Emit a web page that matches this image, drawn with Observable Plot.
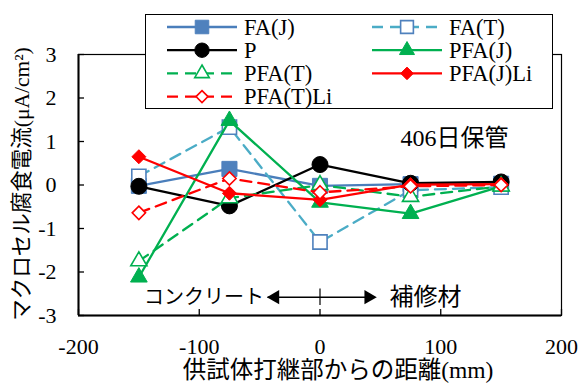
<!DOCTYPE html>
<html>
<head>
<meta charset="utf-8">
<script src="https://cdn.jsdelivr.net/npm/d3@7"></script>
<script src="https://cdn.jsdelivr.net/npm/@observablehq/plot@0.6"></script>
<style>
  body { margin: 0; background: #fff; }
  #chart { position: relative; width: 581px; height: 385px; font-family: "Liberation Serif", "Times New Roman", "Noto Sans CJK JP", serif; }
  #legend { position: absolute; left: 145px; top: 14px; width: 408px; height: 95px; background: #fff;
            border: 1.5px solid #000; box-sizing: border-box; overflow: visible; }
</style>
</head>
<body>
<div id="chart"><div id="legend"></div></div>
<script>
// Measurement positions (mm from the construction joint)
const positions = [-150, -75, 0, 75, 150];

// Macrocell corrosion current density (µA/cm²) per specimen
const faJ     = [-0.02,  0.37, -0.02,  0.02,  0.03];
const faT     = [ 0.20,  1.33, -1.31, -0.12, -0.05];
const p       = [-0.03, -0.48,  0.47,  0.04,  0.07];
const pfaJ    = [-2.12,  1.48, -0.40, -0.66, -0.03];
const pfaT    = [-1.75, -0.30,  0.00, -0.27, -0.03];
const pfaJLi  = [ 0.65, -0.19, -0.34,  0.01,  0.02];
const pfaTLi  = [-0.64,  0.15, -0.17, -0.03,  0.00];

const seriesNames = ["FA(J)", "FA(T)", "P", "PFA(J)", "PFA(T)", "PFA(J)Li", "PFA(T)Li"];
const seriesValues = [faJ, faT, p, pfaJ, pfaT, pfaJLi, pfaTLi];

const xTicks = [-200, -100, 0, 100, 200];
const yTicks = [-3, -2, -1, 0, 1, 2, 3];

const yTitle = "マクロセル腐食電流(μA/cm²)";
const xTitle = "供試体打継部からの距離(mm)";
const noteText = "406日保管";
const leftZone = "コンクリート";
const rightZone = "補修材";

const serif = '"Liberation Serif", "Times New Roman", "Noto Sans CJK JP", serif';

// Drawing styles for each series
const styles = {
  "FA(J)":    {line: "#4A7EBB", dash: null,   symbol: "square",   fill: "#4F81BD", stroke: "#4F81BD", r: 8.5},
  "FA(T)":    {line: "#4BACC6", dash: "11,7", symbol: "square",   fill: "#fff",    stroke: "#4F81BD", r: 8},
  "P":        {line: "#000",    dash: null,   symbol: "circle",   fill: "#000",    stroke: "#000",    r: 8},
  "PFA(J)":   {line: "#00B050", dash: null,   symbol: "triangle", fill: "#00B050", stroke: "#00B050", r: 6.2},
  "PFA(T)":   {line: "#00B050", dash: "11,7", symbol: "triangle", fill: "#fff",    stroke: "#00B050", r: 6},
  "PFA(J)Li": {line: "#FF0000", dash: null,   symbol: "diamond2", fill: "#FF0000", stroke: "#FF0000", r: 6.3},
  "PFA(T)Li": {line: "#FF0000", dash: "11,7", symbol: "diamond2", fill: "#fff",    stroke: "#FF0000", r: 6}
};

const rows = seriesNames.flatMap((name, i) =>
  positions.map((x, j) => ({series: name, x, y: seriesValues[i][j]})));

const seriesMarks = seriesNames.flatMap(name => {
  const s = styles[name];
  const data = rows.filter(d => d.series === name);
  return [
    Plot.line(data, {x: "x", y: "y", stroke: s.line, strokeWidth: 2.3, strokeDasharray: s.dash ?? undefined}),
    Plot.dot(data, {x: "x", y: "y", symbol: () => s.symbol, r: s.r, fill: s.fill, stroke: s.stroke,
                    strokeWidth: s.fill === "#fff" ? 1.6 : 1})
  ];
});

// Annotation placement (data units)
const note = {x: 113, y: 1.07};
const zoneY = -2.58;
const arrowEnds = [-43, 46];

const chart = Plot.plot({
  width: 581,
  height: 385,
  marginLeft: 78,
  marginRight: 20,
  marginTop: 54,
  marginBottom: 70,
  style: {fontFamily: serif, fontSize: "22px", color: "#000", background: "#fff"},
  x: {domain: [-200, 200], ticks: xTicks},
  y: {domain: [-3, 3], ticks: yTicks},
  marks: [
    Plot.frame({stroke: "#000", strokeWidth: 1.2}),
    Plot.axisX(xTicks, {tickSize: 0, tickPadding: 23, label: null, tickFormat: d => String(d), fontFamily: serif}),
    Plot.axisX(xTicks, {tickSize: -6, tickFormat: () => "", label: null, strokeWidth: 1.3}),
    Plot.axisY(yTicks, {tickSize: 0, tickPadding: 22, label: null, tickFormat: d => String(d), fontFamily: serif}),
    Plot.axisY(yTicks, {tickSize: -6, tickFormat: () => "", label: null, strokeWidth: 1.3}),
    Plot.ruleX([-200], {stroke: "#000", strokeWidth: 2}),
    Plot.ruleY([-3], {stroke: "#000", strokeWidth: 2}),
    Plot.text([yTitle], {frameAnchor: "left", dx: -56, dy: -1, rotate: -90, textAnchor: "middle", lineAnchor: "middle",
                         text: d => d, fill: "#000", fontSize: 21.5, fontFamily: serif}),
    Plot.text([xTitle], {frameAnchor: "bottom", dx: 18, dy: 55, textAnchor: "middle", lineAnchor: "middle",
                         text: d => d, fill: "#000", fontSize: 23.5, fontFamily: serif}),
    ...seriesMarks,
    Plot.text([noteText], {x: () => note.x, y: () => note.y, dx: -2, text: d => d, fill: "#000", fontSize: 24, fontFamily: serif}),
    // Concrete / repair-material zone indicator
    Plot.ruleY([zoneY], {x1: arrowEnds[0], x2: arrowEnds[1], stroke: "#000", strokeWidth: 1.5}),
    Plot.ruleX([0], {y1: zoneY - 0.19, y2: zoneY + 0.19, stroke: "#000", strokeWidth: 1.2}),
    Plot.dot([arrowEnds[0]], {x: d => d, y: () => zoneY, symbol: "triangle", rotate: -90, r: 5.3, dx: 7, fill: "#000", stroke: "none"}),
    Plot.dot([arrowEnds[1]], {x: d => d, y: () => zoneY, symbol: "triangle", rotate: 90, r: 5.3, dx: -7, fill: "#000", stroke: "none"}),
    Plot.text([leftZone], {x: () => arrowEnds[0], y: () => zoneY, dx: -4, text: d => d, textAnchor: "end", fill: "#000", fontSize: 20}),
    Plot.text([rightZone], {x: () => arrowEnds[1], y: () => zoneY, dx: 14, text: d => d, textAnchor: "start", fill: "#000", fontSize: 24})
  ]
});
document.getElementById("chart").prepend(chart);

// Legend: two columns, drawn as a small SVG
const legendRows = [[0, 0], [1, 0], [0, 1], [1, 1], [0, 2], [1, 2], [0, 3]];
const lg = d3.select("#legend").append("svg").attr("width", 405).attr("height", 92)
  .style("position", "absolute").style("left", "0px").style("top", "0px").style("overflow", "visible");
seriesNames.forEach((name, i) => {
  const s = styles[name];
  const [col, row] = legendRows[i];
  const x0 = col === 0 ? 21 : 226;
  const yc = 12 + row * 23.2;
  const g = lg.append("g").attr("transform", `translate(${x0},${yc})`);
  g.append("line").attr("x1", 0).attr("x2", 70).attr("y1", 0).attr("y2", 0)
    .attr("stroke", s.line).attr("stroke-width", 2.3).attr("stroke-dasharray", s.dash);
  const symbolType = {square: d3.symbolSquare, circle: d3.symbolCircle, triangle: d3.symbolTriangle, diamond2: d3.symbolDiamond2}[s.symbol];
  const rr = s.r * 0.9;
  g.append("path").attr("transform", "translate(35,0)")
    .attr("d", d3.symbol(symbolType, Math.PI * rr * rr)())
    .attr("fill", s.fill).attr("stroke", s.stroke).attr("stroke-width", s.fill === "#fff" ? 1.6 : 1);
  g.append("text").attr("x", 77).attr("y", 0).attr("dy", "0.35em")
    .style("font-family", serif).style("font-size", "22.5px").text(name);
});
</script>
</body>
</html>
